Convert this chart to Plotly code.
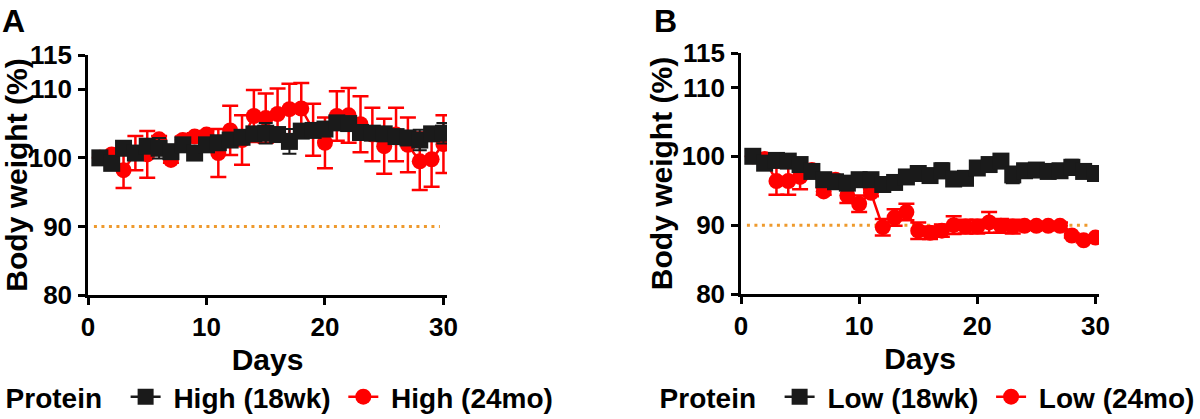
import plotly.graph_objects as go

days = list(range(1, 31))

# Panel A: high protein
high_18wk = [100.0, 99.2, 101.4, 100.7, 101.7, 101.4, 100.9, 101.9, 100.7, 101.9,
             102.2, 102.6, 103.0, 103.5, 103.6, 103.4, 102.4, 103.9, 104.0, 104.2,
             105.1, 105.0, 103.7, 103.6, 103.5, 103.1, 102.9, 102.6, 103.5, 103.6]
high_18wk_err = [0.3, 0.5, 0.6, 0.6, 0.6, 1.5, 0.6, 0.6, 0.6, 0.6,
                 0.6, 0.7, 0.7, 0.8, 1.5, 0.8, 1.8, 0.8, 0.8, 0.8,
                 0.9, 0.9, 0.8, 0.8, 0.8, 0.9, 0.9, 1.5, 0.9, 1.5]
high_24mo = [100.0, 100.5, 98.2, 100.7, 100.5, 102.7, 99.7, 102.6, 103.1, 103.4,
             100.7, 104.0, 102.6, 106.1, 105.8, 106.4, 107.1, 107.2, 104.1, 102.2,
             106.1, 106.2, 104.9, 103.4, 101.7, 103.4, 101.9, 99.5, 99.8, 102.0]
high_24mo_err = [0.0, 0.4, 2.6, 2.5, 3.4, 0.5, 0.4, 0.5, 0.5, 0.5,
                 3.5, 3.6, 3.6, 3.8, 3.6, 3.7, 3.7, 3.7, 3.8, 3.7,
                 3.6, 4.0, 4.1, 3.9, 4.0, 3.9, 4.0, 4.2, 4.0, 4.2]

# Panel B: low protein
low_18wk = [100.0, 99.0, 99.4, 99.3, 98.8, 97.8, 96.6, 96.3, 96.1, 96.6,
            96.6, 95.9, 96.2, 97.0, 97.5, 97.2, 97.9, 96.7, 96.8, 98.3,
            98.8, 99.3, 97.3, 97.9, 98.0, 97.8, 97.9, 98.4, 97.8, 97.5]
low_18wk_err = [0.3, 0.5, 0.5, 0.5, 0.6, 0.6, 0.6, 0.6, 0.6, 0.6,
                0.6, 0.6, 0.6, 0.6, 0.6, 0.6, 1.1, 0.6, 0.6, 0.7,
                0.9, 0.7, 1.2, 0.7, 0.7, 0.7, 0.7, 1.1, 0.7, 0.9]
low_24mo = [100.0, 99.6, 96.4, 96.4, 97.0, 98.0, 94.9, 96.6, 94.3, 93.1,
            94.7, 89.7, 91.1, 91.9, 89.2, 88.9, 89.2, 90.0, 89.8, 89.8,
            90.4, 89.9, 89.8, 89.9, 89.9, 89.9, 89.9, 88.5, 87.8, 88.2]
low_24mo_err = [0.0, 0.3, 2.0, 2.0, 1.8, 0.5, 0.5, 0.5, 1.1, 1.2,
                0.5, 1.2, 1.2, 1.2, 1.2, 0.9, 0.9, 1.3, 1.0, 1.0,
                1.5, 1.0, 1.0, 0.5, 0.5, 0.5, 0.5, 0.3, 0.3, 0.3]

x_ticks = [0, 10, 20, 30]
y_ticks = [80, 90, 100, 110, 115]
threshold = 90

FONT = "Liberation Sans, Arial, sans-serif"
RED = "#FF0000"
BLACK = "#1a1a1a"
NB = "\u00a0"  # non-breaking space for legend padding

fig = go.Figure()


def add_pair(young, young_err, old, old_err, names, xa, ya, legend):
    # old (red) first so black squares sit on top
    fig.add_trace(go.Scatter(
        x=days, y=old, name=NB + names[1], mode="lines+markers",
        xaxis=xa, yaxis=ya, legend=legend, legendrank=2,
        line=dict(color=RED, width=2.5),
        marker=dict(symbol="circle", size=16, color=RED),
        error_y=dict(type="data", array=old_err, color=RED, thickness=2.5, width=8),
    ))
    fig.add_trace(go.Scatter(
        x=days, y=young, name=NB + names[0] + NB, mode="lines+markers",
        xaxis=xa, yaxis=ya, legend=legend, legendrank=1,
        line=dict(color=BLACK, width=2.5),
        marker=dict(symbol="square", size=17, color=BLACK),
        error_y=dict(type="data", array=young_err, color=BLACK, thickness=2, width=7),
    ))


add_pair(high_18wk, high_18wk_err, high_24mo, high_24mo_err,
         ["High (18wk)", "High (24mo)"], "x", "y", "legend")
add_pair(low_18wk, low_18wk_err, low_24mo, low_24mo_err,
         ["Low (18wk)", "Low (24mo)"], "x2", "y2", "legend2")

for xr, yr in [("x", "y"), ("x2", "y2")]:
    fig.add_shape(type="line", xref=xr, yref=yr, x0=0.5, x1=29.7, y0=threshold, y1=threshold,
                  line=dict(color="#EE9A2E", width=3, dash="3px,4.5px"), layer="below")

axis_common = dict(
    showgrid=False, zeroline=False, showline=True, linecolor="black", linewidth=2.5,
    ticks="outside", ticklen=7, tickwidth=2.5, tickcolor="black", automargin=False,
    tickfont=dict(family=FONT, size=26, color="black", weight="bold"),
)
xcommon = dict(axis_common, range=[0, 30.3], tickvals=x_ticks,
               title=dict(text="Days", font=dict(family=FONT, size=30, color="black", weight="bold"),
                          standoff=9))
ycommon = dict(axis_common, range=[80, 115], tickvals=y_ticks, ticklabelstandoff=1,
               title=dict(text="Body weight (%)",
                          font=dict(family=FONT, size=30, color="black", weight="bold"),
                          standoff=1))

legend_common = dict(
    orientation="h", yanchor="bottom", y=-0.007, xanchor="left",
    font=dict(family=FONT, size=28, color="black", weight="bold"),
    title=dict(text="Protein" + NB * 2, side="left",
               font=dict(family=FONT, size=28, color="black", weight="bold")),
    bgcolor="rgba(0,0,0,0)", itemwidth=30, tracegroupgap=0,
)

fig.update_layout(
    width=1200, height=419,
    margin=dict(l=0, r=0, t=0, b=0, autoexpand=False),
    paper_bgcolor="white", plot_bgcolor="white",
    xaxis=dict(xcommon, domain=[88 / 1200, 447 / 1200], anchor="y"),
    yaxis=dict(ycommon, domain=[1 - 295 / 419, 1 - 55 / 419], anchor="x"),
    xaxis2=dict(xcommon, domain=[741 / 1200, 1099 / 1200], anchor="y2"),
    yaxis2=dict(ycommon, domain=[1 - 294 / 419, 1 - 53 / 419], anchor="x2"),
    legend=dict(legend_common, x=0.003),
    legend2=dict(legend_common, x=0.548),
    annotations=[
        dict(text="A", x=0 / 1200, y=1 - 1 / 419, xref="paper", yref="paper",
             xanchor="left", yanchor="top", showarrow=False,
             font=dict(family=FONT, size=32, color="black", weight="bold")),
        dict(text="B", x=652 / 1200, y=1 - 1 / 419, xref="paper", yref="paper",
             xanchor="left", yanchor="top", showarrow=False,
             font=dict(family=FONT, size=32, color="black", weight="bold")),
    ],
)

# drop the browser's default 8px body margin so the figure fills the window
fig.write_html("out.html", config={"displayModeBar": False},
               post_script="document.body.style.margin = '0';")
